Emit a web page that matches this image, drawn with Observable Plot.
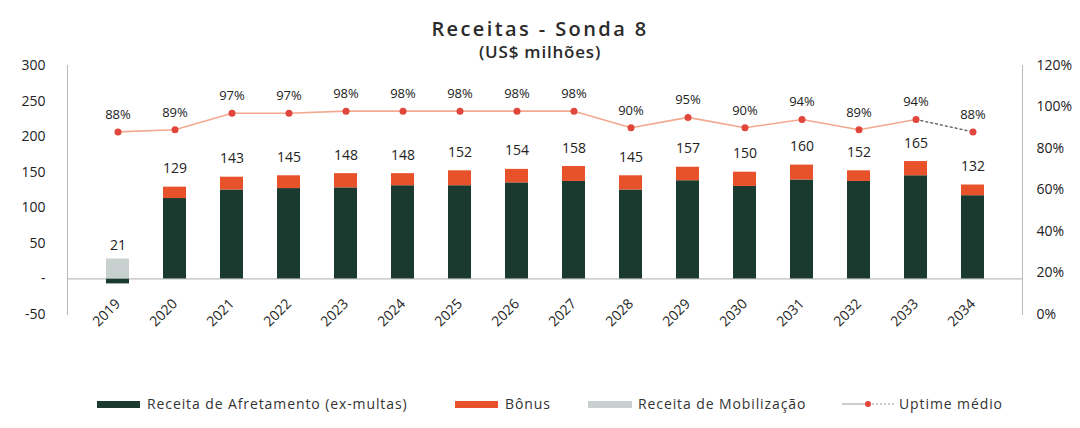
<!DOCTYPE html>
<html>
<head>
<meta charset="utf-8">
<script src="https://cdn.jsdelivr.net/npm/d3@7"></script>
<script src="https://cdn.jsdelivr.net/npm/@observablehq/plot@0.6"></script>
<style>
  body { margin: 0; background: #fff; font-family: "Open Sans", sans-serif; color: #222; }
  #wrap { position: relative; width: 1080px; height: 428px; }
  #title { position: absolute; top: 17px; left: 0; width: 1080px; text-align: center; font-size: 20px; font-weight: 600; letter-spacing: 2.4px; color: #2a2a2a; line-height: 24px; }
  #subtitle { position: absolute; top: 42px; left: 0; width: 1080px; text-align: center; font-size: 17px; font-weight: 600; letter-spacing: 0.8px; color: #2a2a2a; line-height: 20px; }
  #chart { position: absolute; top: 55px; left: 0; }
  .lg { position: absolute; top: 395px; font-size: 14px; letter-spacing: 0.9px; color: #333; line-height: 18px; white-space: nowrap; }
  .sw { position: absolute; height: 7px; }
</style>
</head>
<body>
<div id="wrap">
  <div id="title">Receitas - Sonda 8</div>
  <div id="subtitle">(US$ milhões)</div>
  <div id="chart"></div>
  <div id="legend"></div>
</div>
<script>
const years = ["2019","2020","2021","2022","2023","2024","2025","2026","2027","2028","2029","2030","2031","2032","2033","2034"];
const afretamento = [-7, 113, 125, 127, 128, 131, 131, 135, 137, 125, 138, 130, 139, 137, 145, 117];
const bonus = [0, 16, 18, 18, 20, 17, 21, 19, 21, 20, 19, 20, 21, 15, 20, 15];
const mobilizacao = [28, 0, 0, 0, 0, 0, 0, 0, 0, 0, 0, 0, 0, 0, 0, 0];
const totals = [21, 129, 143, 145, 148, 148, 152, 154, 158, 145, 157, 150, 160, 152, 165, 132];
const uptime = [0.88, 0.89, 0.97, 0.97, 0.98, 0.98, 0.98, 0.98, 0.98, 0.90, 0.95, 0.90, 0.94, 0.89, 0.94, 0.88];
const seriesNames = ["Receita de Afretamento (ex-multas)", "Bônus", "Receita de Mobilização"];
const seriesColors = ["#1b3a2f", "#e8522b", "#c9d0d0"];
const leftTicks = [-50, 0, 50, 100, 150, 200, 250, 300];
const rightTicks = [0, 0.2, 0.4, 0.6, 0.8, 1.0, 1.2];
const uptimeLabel = "Uptime médio";

const yMin = -50, yMax = 300, pMax = 1.2;
const toLeft = p => yMin + p * (yMax - yMin) / pMax;

const stacked = [];
years.forEach((y, i) => {
  stacked.push({year: y, series: seriesNames[0], value: afretamento[i]});
  stacked.push({year: y, series: seriesNames[1], value: bonus[i]});
  stacked.push({year: y, series: seriesNames[2], value: mobilizacao[i]});
});
const totalsData = years.map((y, i) => ({year: y, total: totals[i]}));
const upData = years.map((y, i) => ({year: y, u: uptime[i], yl: toLeft(uptime[i])}));
const upSolid = upData.slice(0, upData.length - 1);
const upLast = upData.slice(upData.length - 2);

const plot = Plot.plot({
  width: 1080,
  height: 299,
  marginLeft: 67,
  marginRight: 58,
  marginTop: 10,
  marginBottom: 40,
  style: {fontFamily: "Open Sans, sans-serif", fontSize: "14px", color: "#222", background: "transparent"},
  x: {domain: years, padding: 0.6, label: null},
  y: {domain: [yMin, yMax], label: null},
  color: {domain: seriesNames, range: seriesColors},
  marks: [
    Plot.frame({anchor: "left", stroke: "#b8b8b8"}),
    Plot.frame({anchor: "right", stroke: "#b8b8b8"}),
    Plot.ruleY([0], {stroke: "#bdbdbd", strokeWidth: 1.2}),
    Plot.barY(stacked, Plot.stackY({x: "year", y: "value", fill: "series", order: seriesNames})),
    Plot.text(totalsData, {x: "year", y: "total", text: d => String(d.total), lineAnchor: "bottom", dy: -14, fill: "#222", fontSize: 14}),
    Plot.line(upSolid, {x: "year", y: "yl", stroke: "#f3a98f", strokeWidth: 1.6}),
    Plot.line(upLast, {x: "year", y: "yl", stroke: "#555", strokeWidth: 1.3, strokeDasharray: "2,3"}),
    Plot.dot(upData, {x: "year", y: "yl", r: 3.5, fill: "#e0463c", stroke: "none"}),
    Plot.text(upData, {x: "year", y: "yl", text: d => Math.round(d.u * 100) + "%", lineAnchor: "bottom", dy: -13, fill: "#222", fontSize: 13}),
    Plot.axisY(leftTicks, {anchor: "left", tickSize: 0, tickPadding: 22, tickFormat: d => d === 0 ? "-" : String(d), fontSize: 14, label: null}),
    Plot.axisY(rightTicks.map(toLeft), {anchor: "right", tickSize: 0, tickPadding: 14, tickFormat: d => Math.round((d - yMin) * pMax / (yMax - yMin) * 100) + "%", fontSize: 14, label: null}),
    Plot.axisX({anchor: "bottom", tickSize: 0, tickRotate: -45, tickPadding: -13, fontSize: 14, label: null})
  ]
});
document.getElementById("chart").appendChild(plot);

// legend
const legend = document.getElementById("legend");
const items = [
  {kind: "bar", color: seriesColors[0], label: seriesNames[0], sx: 97, sw: 43, tx: 147},
  {kind: "bar", color: seriesColors[1], label: seriesNames[1], sx: 455, sw: 43, tx: 505},
  {kind: "bar", color: seriesColors[2], label: seriesNames[2], sx: 588, sw: 44, tx: 638},
  {kind: "line", color: "#f3a98f", label: uptimeLabel, sx: 842, sw: 52, tx: 899}
];
items.forEach(it => {
  if (it.kind === "bar") {
    const s = document.createElement("div");
    s.className = "sw";
    s.style.left = it.sx + "px"; s.style.width = it.sw + "px"; s.style.top = "401px";
    s.style.background = it.color;
    legend.appendChild(s);
  } else {
    const ns = "http://www.w3.org/2000/svg";
    const svg = document.createElementNS(ns, "svg");
    svg.setAttribute("width", it.sw); svg.setAttribute("height", 12);
    svg.style.position = "absolute"; svg.style.left = it.sx + "px"; svg.style.top = "398px";
    const l1 = document.createElementNS(ns, "line");
    l1.setAttribute("x1", 0); l1.setAttribute("x2", it.sw / 2); l1.setAttribute("y1", 6); l1.setAttribute("y2", 6);
    l1.setAttribute("stroke", "#999"); l1.setAttribute("stroke-width", 1);
    const l2 = document.createElementNS(ns, "line");
    l2.setAttribute("x1", it.sw / 2); l2.setAttribute("x2", it.sw); l2.setAttribute("y1", 6); l2.setAttribute("y2", 6);
    l2.setAttribute("stroke", "#999"); l2.setAttribute("stroke-width", 1); l2.setAttribute("stroke-dasharray", "2,2");
    const c = document.createElementNS(ns, "circle");
    c.setAttribute("cx", it.sw / 2); c.setAttribute("cy", 6); c.setAttribute("r", 3); c.setAttribute("fill", "#e0463c");
    svg.appendChild(l1); svg.appendChild(l2); svg.appendChild(c);
    legend.appendChild(svg);
  }
  const t = document.createElement("div");
  t.className = "lg";
  t.style.left = it.tx + "px";
  t.textContent = it.label;
  legend.appendChild(t);
});
</script>
</body>
</html>
